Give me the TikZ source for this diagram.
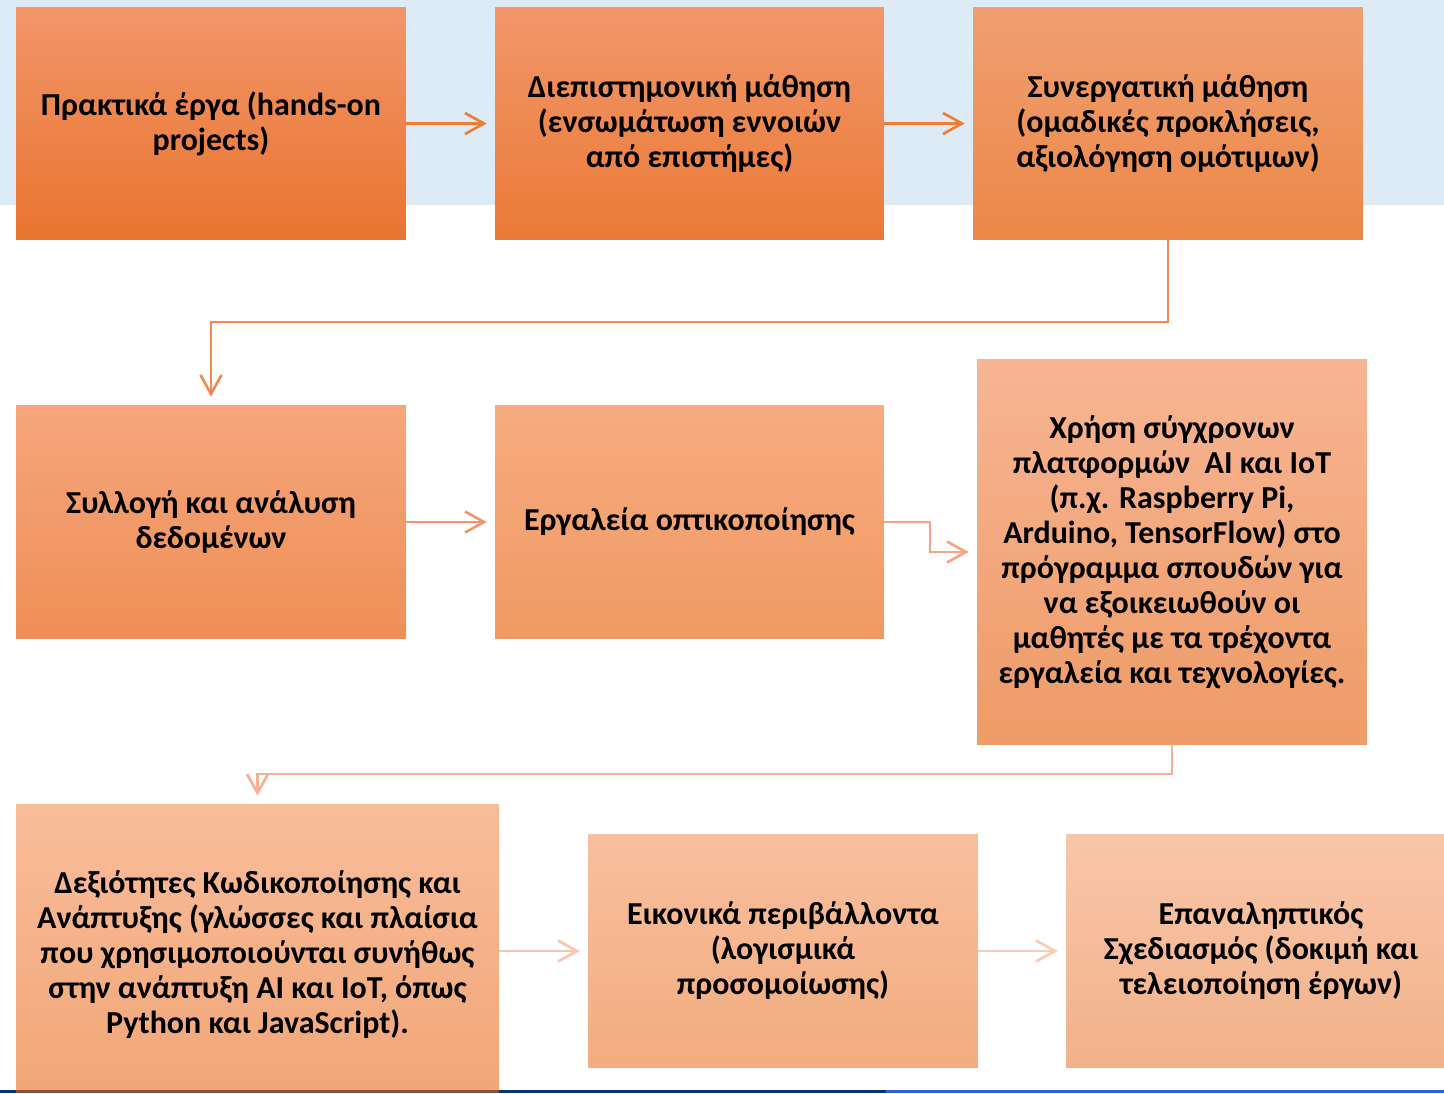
\documentclass[tikz,border=0pt]{standalone}
\usepackage{fontspec}
\setmainfont{Carlito}
\usetikzlibrary{arrows.meta}

\definecolor{bandblue}{HTML}{DDEBF7}
\definecolor{navybar}{HTML}{00386E}
\definecolor{bluebar}{HTML}{2A62D9}
\definecolor{brownbar}{HTML}{8C5038}

\tikzset{
  px/.style={x=0.02cm,y=-0.02cm},
  box/.style={rectangle,inner sep=0pt,align=center,font=\fontsize{18.2}{19.9}\selectfont\bfseries,text=black},
  % vertical gradient of a box: top, middle, bottom (hex)
  grad/.style n args={3}{/utils/exec={\definecolor{gtop}{HTML}{#1}\definecolor{gmid}{HTML}{#2}\definecolor{gbot}{HTML}{#3}},
    top color=gtop,middle color=gmid,bottom color=gbot},
  link/.style={/utils/exec={\definecolor{lnk}{HTML}{#1}},draw=lnk,line width=1.5pt,
    -{Straight Barb[length=0.38cm,width=0.42cm,line width=1.5pt]},shorten >=0.16cm},
}

\begin{document}
\begin{tikzpicture}[px]
\useasboundingbox (0,0) rectangle (1444,1093);
\fill[white] (0,0) rectangle (1444,1093);
\fill[bandblue] (0,0) rectangle (1444,205);

% first row
\node[box,grad={F2966A}{F5853B}{E9742F},minimum width=7.8cm,minimum height=4.66cm] (b1) at (211,123.5)
  {Πρακτικά έργα (hands-on\\projects)};
\node[box,grad={F2976B}{F5873F}{EA7A36},minimum width=7.78cm,minimum height=4.66cm] (b2) at (689.5,123.5)
  {Διεπιστημονική μάθηση\\(ενσωμάτωση εννοιών\\από επιστήμες)};
\node[box,grad={F09F71}{F28D4E}{EC8747},minimum width=7.8cm,minimum height=4.66cm] (b3) at (1168,123.5)
  {Συνεργατική μάθηση\\(ομαδικές προκλήσεις,\\αξιολόγηση ομότιμων)};

% second row
\node[box,grad={F6A67D}{F89A5E}{EE8F55},minimum width=7.8cm,minimum height=4.68cm] (b4) at (211,522)
  {Συλλογή και ανάλυση\\δεδομένων};
\node[box,grad={F7AB81}{F9A06A}{F09A62},minimum width=7.78cm,minimum height=4.68cm] (b5) at (689.5,522)
  {Εργαλεία οπτικοποίησης};
\node[box,grad={F7B594}{F9A877}{EE9B66},minimum width=7.8cm,minimum height=7.72cm] (b6) at (1172,552)
  {Χρήση σύγχρονων\\πλατφορμών\ \ AI και IoT\\(π.χ. Raspberry Pi,\\Arduino, TensorFlow) στο\\πρόγραμμα σπουδών για\\να εξοικειωθούν οι\\μαθητές με τα τρέχοντα\\εργαλεία και τεχνολογίες.};

% third row (the last box runs past the right edge)
\node[box,grad={F9BD9B}{F8B085}{F1A677},minimum width=9.66cm,minimum height=5.78cm] (b7) at (257.5,948.5)
  {\rule{0pt}{20pt}Δεξιότητες Κωδικοποίησης και\\Ανάπτυξης (γλώσσες και πλαίσια\\που χρησιμοποιούνται συνήθως\\στην ανάπτυξη AI και IoT, όπως\\Python και JavaScript).};
\node[box,grad={F9BF9E}{F8B58C}{F2AC7F},minimum width=7.8cm,minimum height=4.68cm] (b8) at (783,951)
  {Εικονικά περιβάλλοντα\\(λογισμικά\\προσομοίωσης)};
\node[box,grad={F9C6A9}{F7BA96}{F2B18A},minimum width=7.8cm,minimum height=4.68cm] (b9) at (1261,951)
  {Επαναληπτικός\\Σχεδιασμός (δοκιμή και\\τελειοποίηση έργων)};

% bend points of the long connectors
\coordinate (j1) at (700,322);
\coordinate (j2) at (930,537);
\coordinate (j3) at (700,774);

% connectors
\draw[link=ED7D31] (b1.east) -- (b2.west);
\draw[link=ED7D31] (b2.east) -- (b3.west);
\draw[link=EE8A55] (b3.south) |- (j1) -| (b4.north);
\draw[link=F0966B] (b4.east) -- (b5.west);
\draw[link=F3A586] (b5.east) -- (j2 |- b5.east) -- (j2 |- b6.west) -- (b6.west);
\draw[link=F5B198] (b6.south) |- (j3) -| (b7.north);
\draw[link=F8C5AF] (b7.east |- b8.west) -- (b8.west);
\draw[link=F9CBB5] (b8.east) -- (b9.west);

% footer bar
\fill[navybar] (0,1090) rectangle (886,1093);
\fill[bluebar] (886,1090) rectangle (1444,1093);
\fill[brownbar] (16,1090) rectangle (499,1093);
\end{tikzpicture}
\end{document}
